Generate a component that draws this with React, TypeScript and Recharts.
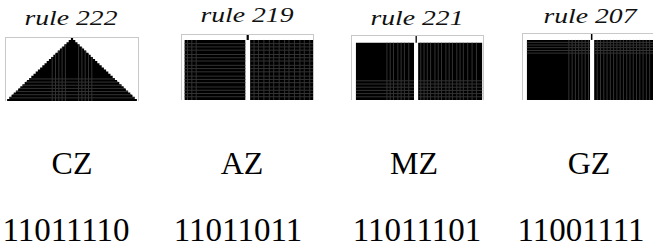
import { ComposedChart, Area, XAxis, YAxis, ReferenceArea, ReferenceLine } from 'recharts'

const COLS = 60
const ROWS = 30

const titles = ['rule 222', 'rule 219', 'rule 221', 'rule 207']
const classes = ['CZ', 'AZ', 'MZ', 'GZ']
const codes = ['11011110', '11011011', '11011101', '11001111']

// rule 222: row where each column first turns black (one cell grows into a triangle)
const rule222Start = [
  30, 29, 28, 27, 26, 25, 24, 23, 22, 21, 20, 19, 18, 17, 16, 15, 14, 13, 12, 11, 10, 9, 8, 7, 6, 5, 4, 3, 2, 1,
  0, 1, 2, 3, 4, 5, 6, 7, 8, 9, 10, 11, 12, 13, 14, 15, 16, 17, 18, 19, 20, 21, 22, 23, 24, 25, 26, 27, 28, 29, 30,
]
const rule222VCols = [21, 22.5, 24, 25.5, 27, 33, 34.5, 36, 37.5, 39]
const rule222HRows = [19.5, 21, 22.5, 24, 25.5, 27, 28.5]

// blocks as [colFrom, colTo, rowFrom, rowTo]
const rule219Blocks = [[1.2, 29, 2.3, 30], [31.2, 60, 2.3, 30], [29.6, 30.6, 0, 2.3]]
const rule219VCols = [2.5, 4.5, 6.5, 33, 35, 37.5, 40, 42, 44.5, 47, 49, 51.5, 54, 56, 58.5]
const rule219HRows = [4, 5.5, 7, 9, 10.5, 12, 14, 15.5, 17, 19, 20.5, 22, 24, 25.5, 27, 28.5]

const rule221Blocks = [[1.8, 28.4, 3.2, 30], [30.3, 59.6, 3.2, 30], [29.1, 29.7, 0, 3.2]]
const rule221VCols = [16, 17.5, 19, 21, 22.5, 24, 26, 31.5, 33, 34.5, 36, 38, 39.5, 41, 43, 44.5, 46, 48, 49.5, 51, 53, 55, 57]
const rule221HRows = [21, 22.5, 24, 25.5, 27, 28.5]

const rule207Blocks = [[1.8, 30.7, 2.7, 30], [32.6, 60, 2.7, 30], [31.1, 31.8, 0, 2.7]]
const rule207VCols = [21, 22.5, 24, 25.5, 27, 28.5, 30, 34, 35.5, 37, 38.5, 40, 41.5, 43, 44.5, 46, 47.5, 49, 50.5, 52, 53.5, 55, 56.5, 58]
const rule207HRows = [3.8, 5, 6.2, 7.5, 8.7]

const SERIF = '"Liberation Serif", "Times New Roman", Times, serif'
const TEXTURE = '#333'

type VLine = { x: number; y1: number; y2: number }
type HLine = { y: number; x1: number; x2: number }

interface PanelProps {
  left: number
  top: number
  width: number
  height: number
  blocks?: number[][]
  area?: { col: number; start: number }[]
  vLines: VLine[]
  hLines: HLine[]
}

function Panel({ left, top, width, height, blocks = [], area, vLines, hLines }: PanelProps) {
  return (
    <div
      style={{
        position: 'absolute',
        left,
        top,
        width,
        height,
        boxSizing: 'border-box',
        borderTop: '1px solid #c8c8c8',
        borderLeft: '1px solid #c8c8c8',
        borderRight: '1px solid #c8c8c8',
      }}
    >
      <ComposedChart width={width - 2} height={height - 1} data={area ?? []} margin={{ top: 0, right: 0, bottom: 0, left: 0 }}>
        <XAxis type="number" dataKey="col" domain={[0, COLS]} hide allowDataOverflow />
        <YAxis type="number" domain={[0, ROWS]} reversed hide allowDataOverflow />
        {area && (
          <Area
            type="step"
            dataKey="start"
            baseValue={ROWS}
            stroke="none"
            fill="#000"
            fillOpacity={1}
            isAnimationActive={false}
            dot={false}
            activeDot={false}
          />
        )}
        {blocks.map((b, i) => (
          <ReferenceArea key={'b' + i} x1={b[0]} x2={b[1]} y1={b[2]} y2={b[3]} fill="#000" fillOpacity={1} stroke="none" ifOverflow="visible" />
        ))}
        {vLines.map((l, i) => (
          <ReferenceLine key={'v' + i} segment={[{ x: l.x, y: l.y1 }, { x: l.x, y: l.y2 }]} stroke={TEXTURE} strokeWidth={1} ifOverflow="visible" />
        ))}
        {hLines.map((l, i) => (
          <ReferenceLine key={'h' + i} segment={[{ x: l.x1, y: l.y }, { x: l.x2, y: l.y }]} stroke={TEXTURE} strokeWidth={1} ifOverflow="visible" />
        ))}
      </ComposedChart>
    </div>
  )
}

const titleX = [71, 247, 417, 590]
const titleY = [25, 22, 25, 23]
const classX = [72, 242, 414, 589]
const codeX = [66, 238, 417, 581]

export default function App() {
  const triangle = rule222Start.map((start, col) => ({ col, start }))

  const p1V = rule222VCols.map((x) => ({ x, y1: Math.abs(x - 30), y2: ROWS }))
  const p1H = rule222HRows.map((y) => ({ y, x1: 30 - y, x2: 30 + y }))

  const p2V = rule219VCols.map((x) => ({ x, y1: 2.3, y2: ROWS }))
  const p2H = rule219HRows.flatMap((y) => [{ y, x1: 1.2, x2: 29 }, { y, x1: 31.2, x2: 60 }])

  const p3V = rule221VCols.map((x) => ({ x, y1: 3.2, y2: ROWS }))
  const p3H = rule221HRows.flatMap((y) => [{ y, x1: 1.8, x2: 28.4 }, { y, x1: 30.3, x2: 59.6 }])

  const p4V = rule207VCols.map((x) => ({ x, y1: 2.7, y2: ROWS }))
  const p4H = rule207HRows.flatMap((y) => [{ y, x1: 1.8, x2: 30.7 }, { y, x1: 32.6, x2: 60 }])

  return (
    <div style={{ position: 'absolute', left: 0, top: 0, width: 653, height: 247, overflow: 'hidden', background: '#fff' }}>
      <Panel left={5} top={37} width={134} height={64} area={triangle} vLines={p1V} hLines={p1H} />
      <Panel left={181} top={34} width={133} height={66} blocks={rule219Blocks} vLines={p2V} hLines={p2H} />
      <Panel left={351} top={35} width={133} height={65} blocks={rule221Blocks} vLines={p3V} hLines={p3H} />
      <Panel left={522} top={33} width={133} height={67} blocks={rule207Blocks} vLines={p4V} hLines={p4H} />
      <svg width={653} height={247} style={{ position: 'absolute', left: 0, top: 0, pointerEvents: 'none', fontFamily: SERIF }}>
        {titles.map((t, i) => (
          <text
            key={t}
            x={titleX[i]}
            y={titleY[i]}
            textAnchor="middle"
            style={{ fontFamily: SERIF, fontStyle: 'italic', fontSize: 22 }}
            textLength={93}
            lengthAdjust="spacingAndGlyphs"
            fill="#111"
          >
            {t}
          </text>
        ))}
        {classes.map((c, i) => (
          <text key={c} x={classX[i]} y={174} textAnchor="middle" style={{ fontFamily: SERIF, fontSize: 32 }} fill="#000">
            {c}
          </text>
        ))}
        {codes.map((c, i) => (
          <text key={c} x={codeX[i]} y={241} textAnchor="middle" style={{ fontFamily: SERIF, fontSize: 33 }} fill="#000">
            {c}
          </text>
        ))}
      </svg>
    </div>
  )
}
